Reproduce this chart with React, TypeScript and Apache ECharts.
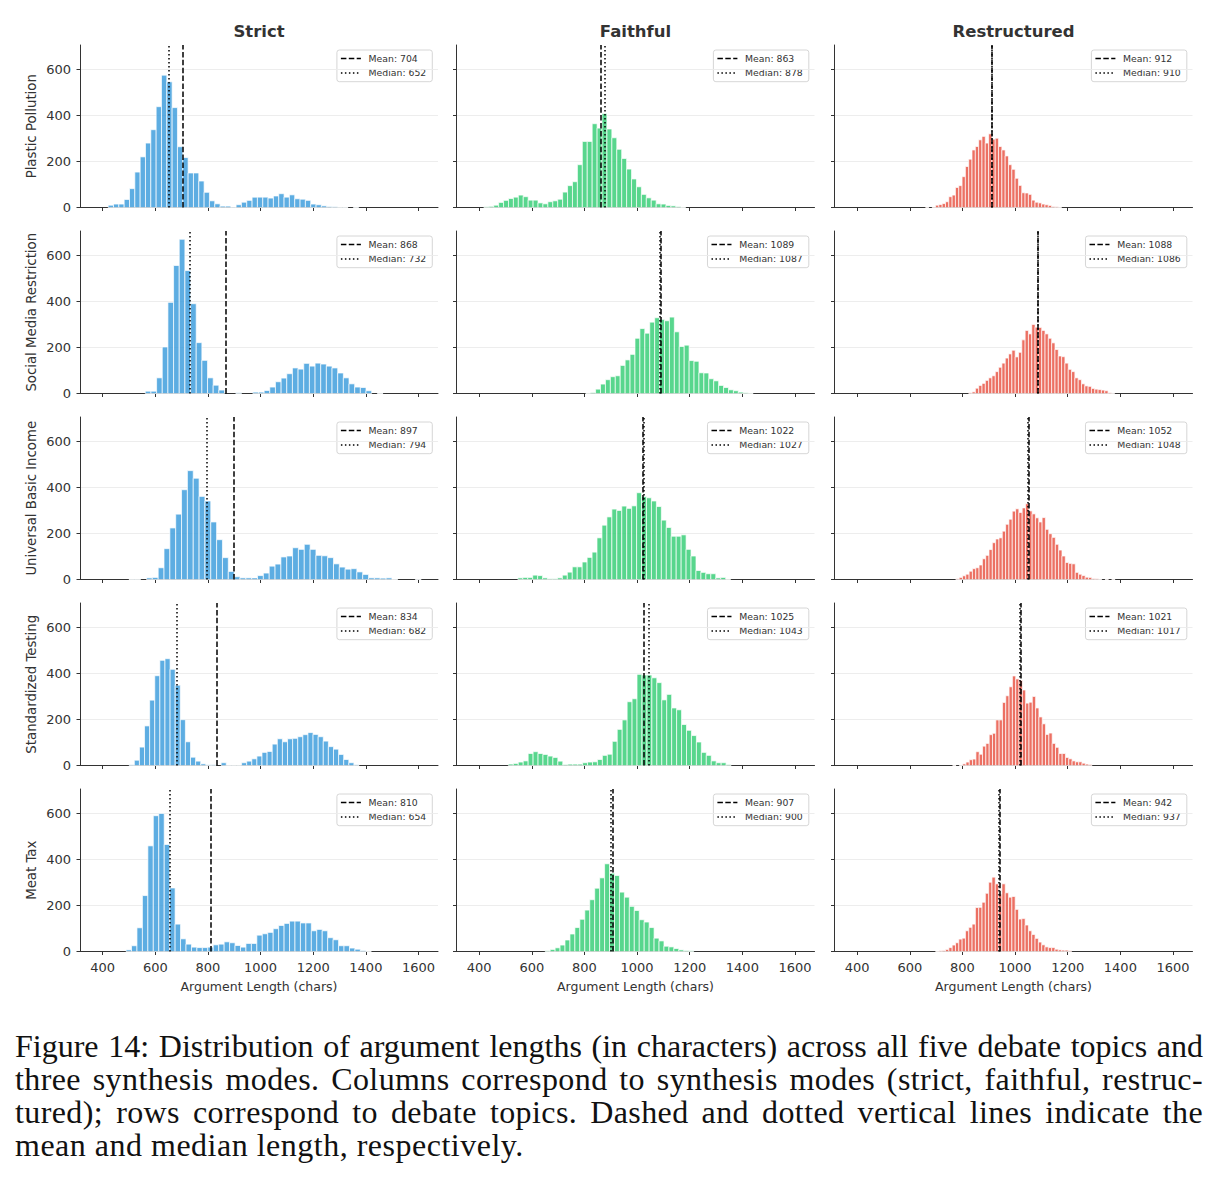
import React, { useEffect, useRef } from 'react';
import * as echarts from 'echarts';

// ---- data ----
const MODES = ['Strict', 'Faithful', 'Restructured'];
const TOPICS = [
  'Plastic Pollution',
  'Social Media Restriction',
  'Universal Basic Income',
  'Standardized Testing',
  'Meat Tax',
];
const X_TICKS = [400, 600, 800, 1000, 1200, 1400, 1600];
const Y_TICKS = [0, 200, 400, 600];

// rows = topics, columns = modes
const MEANS = [
  [704, 863, 912],
  [868, 1089, 1088],
  [897, 1022, 1052],
  [834, 1025, 1021],
  [810, 907, 942],
];
const MEDIANS = [
  [652, 878, 910],
  [732, 1087, 1086],
  [794, 1027, 1048],
  [682, 1043, 1017],
  [654, 900, 937],
];

// left edge of the first bin and bin width (chars) for each histogram
const BIN_START = [
  [421, 418, 660],
  [562, 805, 824],
  [500, 547, 775],
  [501, 511, 763],
  [489, 651, 698],
];
const BIN_WIDTH = [
  [20.25, 18.7, 12.6],
  [21.5, 18.7, 12.6],
  [22.2, 18.8, 12.6],
  [19.4, 18.8, 12.6],
  [20.7, 18.8, 12.6],
];

// bin counts
const strictPlastic = [10, 15, 15, 35, 82, 154, 220, 280, 338, 438, 575, 546, 434, 264, 217, 150, 150, 115, 66, 29, 16, 6, 6, 2, 12, 23, 31, 45, 45, 45, 41, 50, 60, 45, 55, 38, 36, 31, 15, 12, 7, 4, 3, 1, 1, 0, 1];
const strictSocial = [10, 10, 68, 202, 396, 556, 670, 534, 390, 221, 144, 68, 36, 15, 0, 0, 3, 0, 0, 6, 6, 13, 28, 51, 67, 86, 111, 106, 131, 119, 132, 128, 119, 111, 89, 68, 42, 28, 26, 12, 0, 1];
const strictUBI = [1, 1, 0, 7, 9, 51, 134, 224, 284, 390, 473, 440, 361, 341, 250, 173, 95, 35, 12, 7, 7, 7, 17, 28, 58, 67, 98, 102, 138, 131, 153, 131, 105, 103, 95, 68, 54, 45, 47, 33, 22, 7, 7, 6, 7, 1, 0, 0, 0, 1];
const strictTesting = [3, 23, 80, 172, 284, 390, 457, 464, 418, 349, 199, 103, 36, 19, 7, 3, 3, 0, 12, 1, 1, 1, 12, 19, 29, 41, 57, 61, 93, 116, 103, 116, 118, 125, 134, 143, 135, 125, 106, 82, 71, 48, 26, 12, 3];
const strictMeat = [7, 25, 103, 243, 459, 590, 600, 465, 276, 119, 55, 32, 19, 17, 17, 19, 29, 32, 42, 38, 26, 19, 35, 35, 71, 77, 83, 99, 113, 122, 132, 132, 124, 124, 90, 96, 90, 60, 51, 25, 25, 15, 10, 4, 1];

const faithfulPlastic = [3, 5, 10, 22, 31, 39, 45, 54, 47, 32, 32, 20, 16, 25, 29, 36, 67, 95, 112, 186, 287, 287, 364, 345, 408, 341, 303, 253, 213, 167, 124, 90, 57, 42, 32, 16, 15, 9, 7, 4, 1];
const faithfulSocial = [1, 4, 19, 41, 60, 73, 77, 122, 146, 170, 240, 282, 262, 310, 329, 322, 316, 332, 268, 204, 210, 143, 140, 90, 89, 64, 55, 35, 26, 16, 12, 6, 3, 1];
const faithfulUBI = [7, 9, 9, 19, 17, 7, 3, 3, 7, 19, 32, 55, 55, 76, 96, 119, 181, 236, 272, 306, 300, 319, 309, 320, 377, 360, 355, 341, 317, 258, 226, 188, 188, 194, 131, 102, 39, 31, 25, 25, 7, 9, 1];
const faithfulTesting = [6, 9, 15, 20, 52, 60, 52, 48, 41, 35, 19, 4, 6, 6, 6, 12, 15, 16, 26, 44, 49, 105, 157, 198, 277, 290, 396, 393, 393, 381, 360, 285, 309, 250, 242, 178, 153, 130, 102, 57, 44, 20, 12, 12, 4];
const faithfulMeat = [3, 9, 16, 28, 50, 76, 104, 140, 180, 225, 275, 320, 381, 340, 330, 258, 236, 196, 178, 138, 128, 104, 58, 46, 23, 20, 13, 7, 4, 3];

const restructuredPlastic = [1, 0, 2, 10, 13, 17, 25, 47, 54, 87, 95, 134, 178, 210, 250, 265, 294, 309, 280, 320, 297, 301, 265, 250, 224, 186, 166, 127, 96, 64, 63, 57, 32, 23, 20, 15, 12, 9, 4, 3, 1];
const restructuredSocial = [3, 7, 23, 35, 44, 57, 68, 77, 95, 114, 132, 154, 172, 188, 159, 179, 233, 274, 259, 300, 288, 287, 274, 259, 240, 220, 191, 163, 160, 132, 105, 95, 68, 60, 42, 33, 31, 22, 19, 17, 15, 12, 3, 1];
const restructuredUBI = [3, 9, 16, 23, 36, 47, 51, 63, 90, 105, 130, 160, 176, 181, 210, 240, 262, 297, 307, 291, 311, 329, 298, 285, 268, 250, 269, 218, 199, 183, 153, 128, 102, 74, 70, 68, 31, 23, 17, 10, 9, 4, 3, 1, 0, 1, 0, 1];
const restructuredTesting = [1, 0, 1, 7, 15, 25, 28, 60, 49, 84, 96, 134, 140, 198, 198, 274, 303, 342, 389, 376, 370, 328, 271, 275, 300, 250, 211, 181, 135, 141, 96, 79, 52, 52, 35, 29, 20, 16, 16, 10, 6, 4];
const restructuredMeat = [1, 3, 4, 9, 17, 28, 38, 54, 58, 90, 105, 119, 191, 192, 214, 253, 301, 323, 294, 250, 294, 255, 236, 239, 183, 141, 143, 115, 90, 74, 57, 41, 29, 20, 17, 17, 10, 7, 6, 6, 3];

const COUNTS = [
  [strictPlastic, faithfulPlastic, restructuredPlastic],
  [strictSocial, faithfulSocial, restructuredSocial],
  [strictUBI, faithfulUBI, restructuredUBI],
  [strictTesting, faithfulTesting, restructuredTesting],
  [strictMeat, faithfulMeat, restructuredMeat],
];

const CAPTION_LINES = [
  'Figure 14: Distribution of argument lengths (in characters) across all five debate topics and',
  'three synthesis modes. Columns correspond to synthesis modes (strict, faithful, restruc-',
  'tured); rows correspond to debate topics. Dashed and dotted vertical lines indicate the',
  'mean and median length, respectively.',
];

// ---- styling / layout ----
const MODE_COLORS = ['rgba(52,152,219,0.8)', 'rgba(46,204,113,0.8)', 'rgba(231,76,60,0.8)'];
const FONT = 'DejaVu Sans';
const TEXT = '#333333';
const GRID_LEFT = [80, 456.5, 834.5];
const GRID_TOP = [45, 231, 417, 603, 789];
const GRID_W = 358;
const GRID_H = 162.5;
const X_MIN = 314;
const X_MAX = 1674;
const Y_MAX = 706;
const DASH = [5.5, 2.4];
const DOT = [1.5, 2.5];
const LEGEND_FONT = 9.3;
const CAPTION_SPACING = [0, 0.4, 0.4, 0.5];

function legendWidth(label: string): number {
  // approximate DejaVu Sans advance widths
  let w = 0;
  for (const ch of label) {
    if (ch >= '0' && ch <= '9') w += 0.636;
    else if (ch === 'M') w += 0.863;
    else if (ch === ' ') w += 0.318;
    else if (ch === ':') w += 0.337;
    else if (ch === 'i') w += 0.278;
    else w += 0.625;
  }
  return w * LEGEND_FONT;
}

function buildOption() {
  const grid: any[] = [];
  const xAxis: any[] = [];
  const yAxis: any[] = [];
  const series: any[] = [];
  const graphic: any[] = [];

  MODES.forEach((mode, c) => {
    graphic.push({
      type: 'text',
      x: GRID_LEFT[c] + GRID_W / 2,
      y: 31,
      style: {
        text: mode,
        align: 'center',
        verticalAlign: 'middle',
        fontFamily: FONT,
        fontSize: 16.5,
        fontWeight: 'bold',
        fill: TEXT,
      },
    });
  });

  TOPICS.forEach((topic, r) => {
    graphic.push({
      type: 'text',
      x: 31,
      y: GRID_TOP[r] + GRID_H / 2,
      rotation: Math.PI / 2,
      style: {
        text: topic,
        align: 'center',
        verticalAlign: 'middle',
        fontFamily: FONT,
        fontSize: 13.3,
        fill: TEXT,
      },
    });

    MODES.forEach((_m, c) => {
      const idx = r * 3 + c;
      const left = GRID_LEFT[c];
      const top = GRID_TOP[r];
      grid.push({ left, top, width: GRID_W, height: GRID_H, containLabel: false });

      xAxis.push({
        gridIndex: idx,
        type: 'value',
        min: X_MIN,
        max: X_MAX,
        axisLine: { show: true, onZero: false, lineStyle: { color: TEXT, width: 1 } },
        axisTick: { show: true, length: 3.5, customValues: X_TICKS, lineStyle: { color: TEXT, width: 1 } },
        axisLabel: {
          show: r === 4,
          customValues: X_TICKS,
          formatter: (v: number) => String(v),
          margin: 9,
          fontSize: 13,
          fontFamily: FONT,
          color: TEXT,
        },
        splitLine: { show: false },
        name: r === 4 ? 'Argument Length (chars)' : '',
        nameLocation: 'middle',
        nameGap: 28,
        nameTextStyle: { fontSize: 12.5, fontFamily: FONT, color: TEXT },
      });

      yAxis.push({
        gridIndex: idx,
        type: 'value',
        min: 0,
        max: Y_MAX,
        axisLine: { show: true, onZero: false, lineStyle: { color: TEXT, width: 1 } },
        axisTick: { show: true, length: 3.5, customValues: Y_TICKS, lineStyle: { color: TEXT, width: 1 } },
        axisLabel: {
          show: c === 0,
          customValues: Y_TICKS,
          formatter: (v: number) => String(v),
          margin: 9,
          fontSize: 13,
          fontFamily: FONT,
          color: TEXT,
        },
        splitLine: { show: true, lineStyle: { color: '#ebebeb', width: 0.9 } },
      });

      const start = BIN_START[r][c];
      const w = BIN_WIDTH[r][c];
      const data = COUNTS[r][c].map((v, i) => [start + i * w, start + (i + 1) * w, v]);
      const fill = MODE_COLORS[c];

      series.push({
        type: 'custom',
        xAxisIndex: idx,
        yAxisIndex: idx,
        data,
        encode: { x: [0, 1], y: 2 },
        renderItem: (_params: any, api: any) => {
          const v = api.value(2);
          if (!v) return null;
          const p0 = api.coord([api.value(0), v]);
          const p1 = api.coord([api.value(1), 0]);
          return {
            type: 'rect',
            shape: { x: p0[0], y: p0[1], width: p1[0] - p0[0], height: p1[1] - p0[1] },
            style: { fill, stroke: '#ffffff', lineWidth: 0.7 },
          };
        },
        markLine: {
          silent: true,
          symbol: ['none', 'none'],
          label: { show: false },
          emphasis: { disabled: true },
          data: [
            { xAxis: MEANS[r][c], lineStyle: { type: DASH, color: '#000', width: 1.5 } },
            { xAxis: MEDIANS[r][c], lineStyle: { type: DOT, color: '#000', width: 1.5 } },
          ],
        },
      });

      // per-panel legend box
      const meanLabel = `Mean: ${MEANS[r][c]}`;
      const medianLabel = `Median: ${MEDIANS[r][c]}`;
      const textW = Math.max(legendWidth(meanLabel), legendWidth(medianLabel));
      const boxW = 31.7 + textW + 6;
      const boxH = 31.7;
      const gx = left + GRID_W - 5.7 - boxW;
      const gy = top + 5;
      graphic.push({
        type: 'group',
        x: gx,
        y: gy,
        z: 100,
        children: [
          {
            type: 'rect',
            shape: { x: 0, y: 0, width: boxW, height: boxH, r: 2.5 },
            style: { fill: 'rgba(255,255,255,0.8)', stroke: '#cccccc', lineWidth: 0.8 },
          },
          {
            type: 'line',
            shape: { x1: 4, y1: 8.5, x2: 24, y2: 8.5 },
            style: { stroke: '#000', lineWidth: 1.5, lineDash: DASH },
          },
          {
            type: 'line',
            shape: { x1: 4, y1: 22.9, x2: 24, y2: 22.9 },
            style: { stroke: '#000', lineWidth: 1.5, lineDash: DOT },
          },
          {
            type: 'text',
            x: 31.7,
            y: 8.5,
            style: { text: meanLabel, fontFamily: FONT, fontSize: LEGEND_FONT, fill: TEXT, align: 'left', verticalAlign: 'middle' },
          },
          {
            type: 'text',
            x: 31.7,
            y: 22.9,
            style: { text: medianLabel, fontFamily: FONT, fontSize: LEGEND_FONT, fill: TEXT, align: 'left', verticalAlign: 'middle' },
          },
        ],
      });
    });
  });

  return {
    animation: false,
    backgroundColor: '#ffffff',
    textStyle: { fontFamily: FONT },
    grid,
    xAxis,
    yAxis,
    series,
    graphic,
  };
}

function Chart() {
  const ref = useRef<HTMLDivElement>(null);
  useEffect(() => {
    if (!ref.current) return;
    const chart = echarts.init(ref.current, undefined, { renderer: 'svg' });
    chart.setOption(buildOption() as any);
    return () => chart.dispose();
  }, []);
  return <div ref={ref} style={{ width: 1223, height: 1005 }} />;
}

export default function App() {
  return (
    <div
      style={{
        position: 'absolute',
        left: 0,
        top: 0,
        width: 1223,
        height: 1178,
        background: '#ffffff',
        overflow: 'hidden',
      }}
    >
      <Chart />
      <div
        style={{
          position: 'absolute',
          left: 15,
          top: 1030,
          width: 1188,
          fontFamily: '"Liberation Serif", serif',
          fontSize: 32,
          lineHeight: '33px',
          color: '#111',
        }}
      >
        {CAPTION_LINES.map((line, i) => (
          <div
            key={i}
            style={{
              letterSpacing: `${CAPTION_SPACING[i]}px`,
              textAlign: i < CAPTION_LINES.length - 1 ? 'justify' : 'left',
              textAlignLast: i < CAPTION_LINES.length - 1 ? 'justify' : 'left',
            } as any}
          >
            {line}
          </div>
        ))}
      </div>
    </div>
  );
}
